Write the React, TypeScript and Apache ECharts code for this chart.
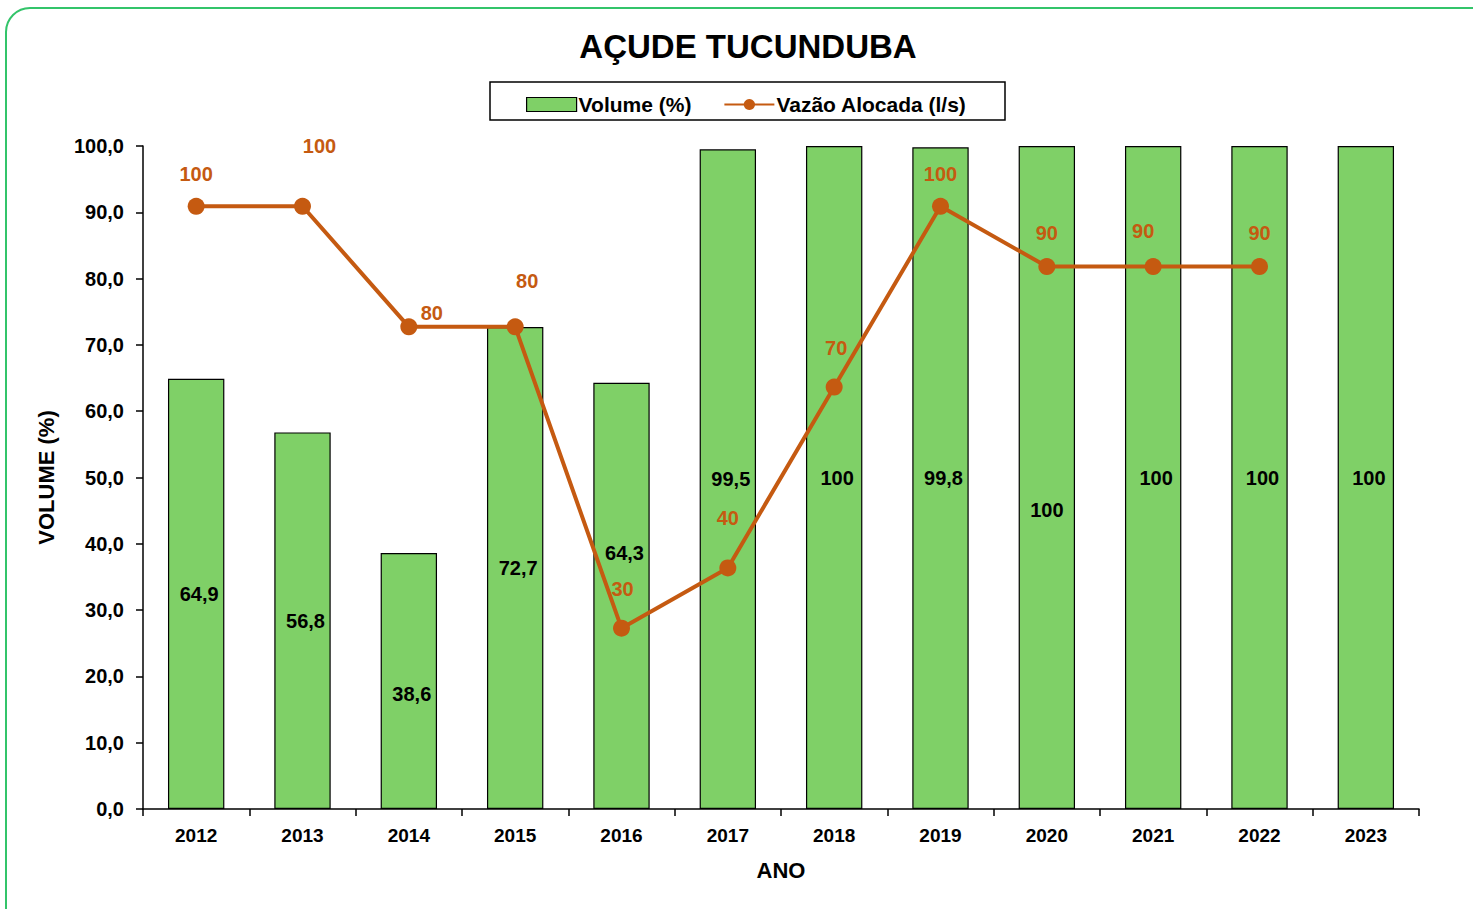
import React, { useEffect, useRef } from "react";
import * as echarts from "echarts";

const years = ["2012", "2013", "2014", "2015", "2016", "2017", "2018", "2019", "2020", "2021", "2022", "2023"];
const volume = [64.9, 56.8, 38.6, 72.7, 64.3, 99.5, 100, 99.8, 100, 100, 100, 100];
const volumeLabels = ["64,9", "56,8", "38,6", "72,7", "64,3", "99,5", "100", "99,8", "100", "100", "100", "100"];
const vazao = [100, 100, 80, 80, 30, 40, 70, 100, 90, 90, 90, null];
// label offsets [dx, dy] as in the original manual placement
const vazaoLabelOffsets = [[0, -32], [17, -60], [23, -14], [12, -46], [1, -39], [0, -50], [2, -39], [0, -32], [0, -34], [-10, -36], [0, -34], [0, 0]];
const volumeLabelOffsets = [[3, 0], [3, 0], [3, 13], [3, 0], [3, -43], [3, 0], [3, 0], [3, 0], [0, 32], [3, 0], [3, 0], [3, 0]];

const LINE = "#C55A11";
const BAR = "#7FD067";
const FONT = "'Liberation Sans', Arial, sans-serif";

export default function App() {
  const ref = useRef<HTMLDivElement>(null);
  useEffect(() => {
    const chart = echarts.init(ref.current!, null, { renderer: "svg" });
    chart.setOption({
      animation: false,
      backgroundColor: "#fff",
      textStyle: { fontFamily: FONT },
      title: {
        text: "AÇUDE TUCUNDUBA",
        left: 743,
        textAlign: "center",
        top: 25,
        textStyle: { fontSize: 33, fontWeight: "bold", color: "#000", fontFamily: FONT },
      },
      graphic: [
        {
          type: "rect",
          shape: { x: 6, y: 8, width: 1520, height: 940, r: 24 },
          style: { fill: "none", stroke: "#33C46A", lineWidth: 2 },
          silent: true,
        },
        {
          type: "rect",
          shape: { x: 490, y: 82, width: 515, height: 38 },
          style: { fill: "none", stroke: "#000", lineWidth: 1.5 },
          silent: true,
        },
      ],
      legend: {
        left: 521,
        top: 89,
        itemGap: 32,
        itemWidth: 50,
        itemHeight: 14,
        textStyle: { fontSize: 21, fontWeight: "bold", color: "#000", fontFamily: FONT, padding: [0, 0, 0, -3] },
        data: [
          { name: "Volume (%)", icon: "rect", itemStyle: { borderColor: "#000", borderWidth: 1.2 } },
          { name: "Vazão Alocada (l/s)" },
        ],
      },
      grid: { left: 143, right: 54, top: 146, bottom: 100, containLabel: false },
      xAxis: {
        type: "category",
        data: years,
        name: "ANO",
        nameLocation: "middle",
        nameGap: 50,
        nameTextStyle: { fontSize: 22, fontWeight: "bold", color: "#000", fontFamily: FONT },
        axisLine: { lineStyle: { color: "#000", width: 1.5 } },
        axisTick: { show: true, length: 7, lineStyle: { color: "#000", width: 1.5 }, alignWithLabel: false },
        axisLabel: { fontSize: 19, fontWeight: "bold", color: "#000", margin: 17, fontFamily: FONT },
      },
      yAxis: [
        {
          type: "value",
          min: 0,
          max: 100,
          interval: 10,
          name: "VOLUME (%)",
          nameLocation: "middle",
          nameRotate: 90,
          nameGap: 86,
          nameTextStyle: { fontSize: 22, fontWeight: "bold", color: "#000", fontFamily: FONT },
          axisLine: { show: true, lineStyle: { color: "#000", width: 1.5 } },
          axisTick: { show: true, length: 7, lineStyle: { color: "#000", width: 1.5 } },
          splitLine: { show: false },
          axisLabel: {
            fontSize: 20,
            fontWeight: "bold",
            color: "#000",
            margin: 19,
            fontFamily: FONT,
            formatter: (v: number) => v.toFixed(1).replace(".", ","),
          },
        },
        { type: "value", min: 0, max: 110, show: false, splitLine: { show: false } },
      ],
      series: [
        {
          name: "Volume (%)",
          type: "bar",
          barWidth: "53%",
          itemStyle: { color: BAR, borderColor: "#000", borderWidth: 1.2 },
          data: volume.map((v, i) => ({
            value: v,
            label: {
              show: true,
              position: "inside",
              offset: volumeLabelOffsets[i],
              formatter: volumeLabels[i],
              fontSize: 20,
              fontWeight: "bold",
              color: "#000",
              fontFamily: FONT,
            },
          })),
          z: 2,
        },
        {
          name: "Vazão Alocada (l/s)",
          type: "line",
          yAxisIndex: 1,
          color: LINE,
          symbol: "circle",
          symbolSize: 17,
          lineStyle: { color: LINE, width: 4 },
          itemStyle: { color: LINE },
          data: vazao.map((v, i) => ({
            value: v,
            label: {
              show: v !== null,
              position: "inside",
              offset: vazaoLabelOffsets[i],
              formatter: String(v),
              fontSize: 20,
              fontWeight: "bold",
              color: LINE,
              fontFamily: FONT,
            },
          })),
          z: 3,
        },
      ],
    });
    return () => chart.dispose();
  }, []);
  return <div ref={ref} style={{ position: "absolute", left: 0, top: 0, width: 1473, height: 909 }} />;
}
